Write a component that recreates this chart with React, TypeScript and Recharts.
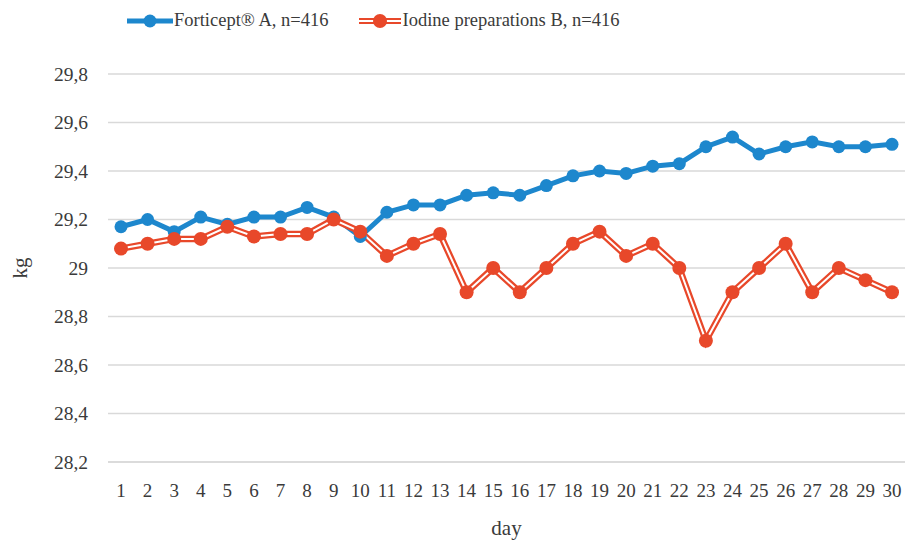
import { LineChart, Line, XAxis, YAxis, CartesianGrid, Label } from 'recharts';

const days = ['1', '2', '3', '4', '5', '6', '7', '8', '9', '10', '11', '12', '13', '14', '15', '16', '17', '18', '19', '20', '21', '22', '23', '24', '25', '26', '27', '28', '29', '30'];
const forticept = [29.17, 29.2, 29.15, 29.21, 29.18, 29.21, 29.21, 29.25, 29.21, 29.13, 29.23, 29.26, 29.26, 29.3, 29.31, 29.3, 29.34, 29.38, 29.4, 29.39, 29.42, 29.43, 29.5, 29.54, 29.47, 29.5, 29.52, 29.5, 29.5, 29.51];
const iodine = [29.08, 29.1, 29.12, 29.12, 29.17, 29.13, 29.14, 29.14, 29.2, 29.15, 29.05, 29.1, 29.14, 28.9, 29.0, 28.9, 29.0, 29.1, 29.15, 29.05, 29.1, 29.0, 28.7, 28.9, 29.0, 29.1, 28.9, 29.0, 28.95, 28.9];
const yTicks = [28.2, 28.4, 28.6, 28.8, 29, 29.2, 29.4, 29.6, 29.8];

const BLUE = '#1d87cd';
const RED = '#e8482a';
const TEXT = '#3a3a3a';
const FONT = '"Liberation Serif", "Times New Roman", serif';

const data = days.map((day, i) => ({ day, a: forticept[i], b: iodine[i] }));

const fmtY = (v: number) => String(Number(v.toFixed(1))).replace('.', ',');

function LegendRow() {
  return (
    <div style={{ position: 'absolute', left: 127, top: 10, display: 'flex', alignItems: 'center', fontFamily: FONT, fontSize: 18.5, color: TEXT, whiteSpace: 'nowrap' }}>
      <svg width={46} height={20}>
        <line x1={0} y1={10} x2={46} y2={10} stroke={BLUE} strokeWidth={5} strokeLinecap="round" />
        <circle cx={23} cy={10} r={6.5} fill={BLUE} />
      </svg>
      <span style={{ marginLeft: 1 }}>Forticept® A, n=416</span>
      <svg width={42} height={20} style={{ marginLeft: 30 }}>
        <line x1={0} y1={10} x2={42} y2={10} stroke={RED} strokeWidth={6} />
        <line x1={0} y1={10} x2={42} y2={10} stroke="#fff" strokeWidth={2} />
        <circle cx={21} cy={10} r={7} fill={RED} />
      </svg>
      <span style={{ marginLeft: 2 }}>Iodine preparations B, n=416</span>
    </div>
  );
}

export default function App() {
  return (
    <div style={{ position: 'fixed', left: 0, top: 0, width: 908, height: 543, background: '#fff' }}>
      <LineChart width={908} height={543} data={data} margin={{ top: 74, right: 3, bottom: 0, left: 0 }}>
        <CartesianGrid vertical={false} stroke="#d9d9d9" strokeWidth={1.5} />
        <XAxis
          dataKey="day"
          height={81}
          interval={0}
          padding={{ left: 13, right: 13 }}
          axisLine={{ stroke: '#d9d9d9', strokeWidth: 1.5 }}
          tickLine={false}
          tickSize={0}
          tickMargin={22}
          tick={{ fill: TEXT, fontSize: 19, fontFamily: FONT }}
        >
          <Label value="day" position="insideBottom" offset={8} fill={TEXT} fontSize={21} fontFamily={FONT} />
        </XAxis>
        <YAxis
          type="number"
          domain={[28.2, 29.8]}
          ticks={yTicks}
          width={108}
          axisLine={false}
          tickLine={false}
          tickSize={0}
          tickMargin={20}
          tickFormatter={fmtY}
          tick={{ fill: TEXT, fontSize: 19.5, fontFamily: FONT }}
          label={{
            content: ({ viewBox }: any) => {
              const cx = viewBox.x + 20;
              const cy = viewBox.y + viewBox.height / 2;
              return (
                <text x={cx} y={cy} transform={`rotate(-90 ${cx} ${cy})`} textAnchor="middle" dominantBaseline="central" fill={TEXT} fontSize={21} fontFamily={FONT}>
                  kg
                </text>
              );
            },
          }}
        />
        <Line dataKey="a" stroke={BLUE} strokeWidth={5} dot={{ r: 6.5, fill: BLUE, stroke: BLUE, strokeWidth: 0 }} isAnimationActive={false} />
        <Line dataKey="b" stroke={RED} strokeWidth={6.5} dot={false} isAnimationActive={false} />
        <Line dataKey="b" stroke="#fff" strokeWidth={2} dot={{ r: 7, fill: RED, stroke: RED, strokeWidth: 0 }} isAnimationActive={false} />
      </LineChart>
      <LegendRow />
    </div>
  );
}
